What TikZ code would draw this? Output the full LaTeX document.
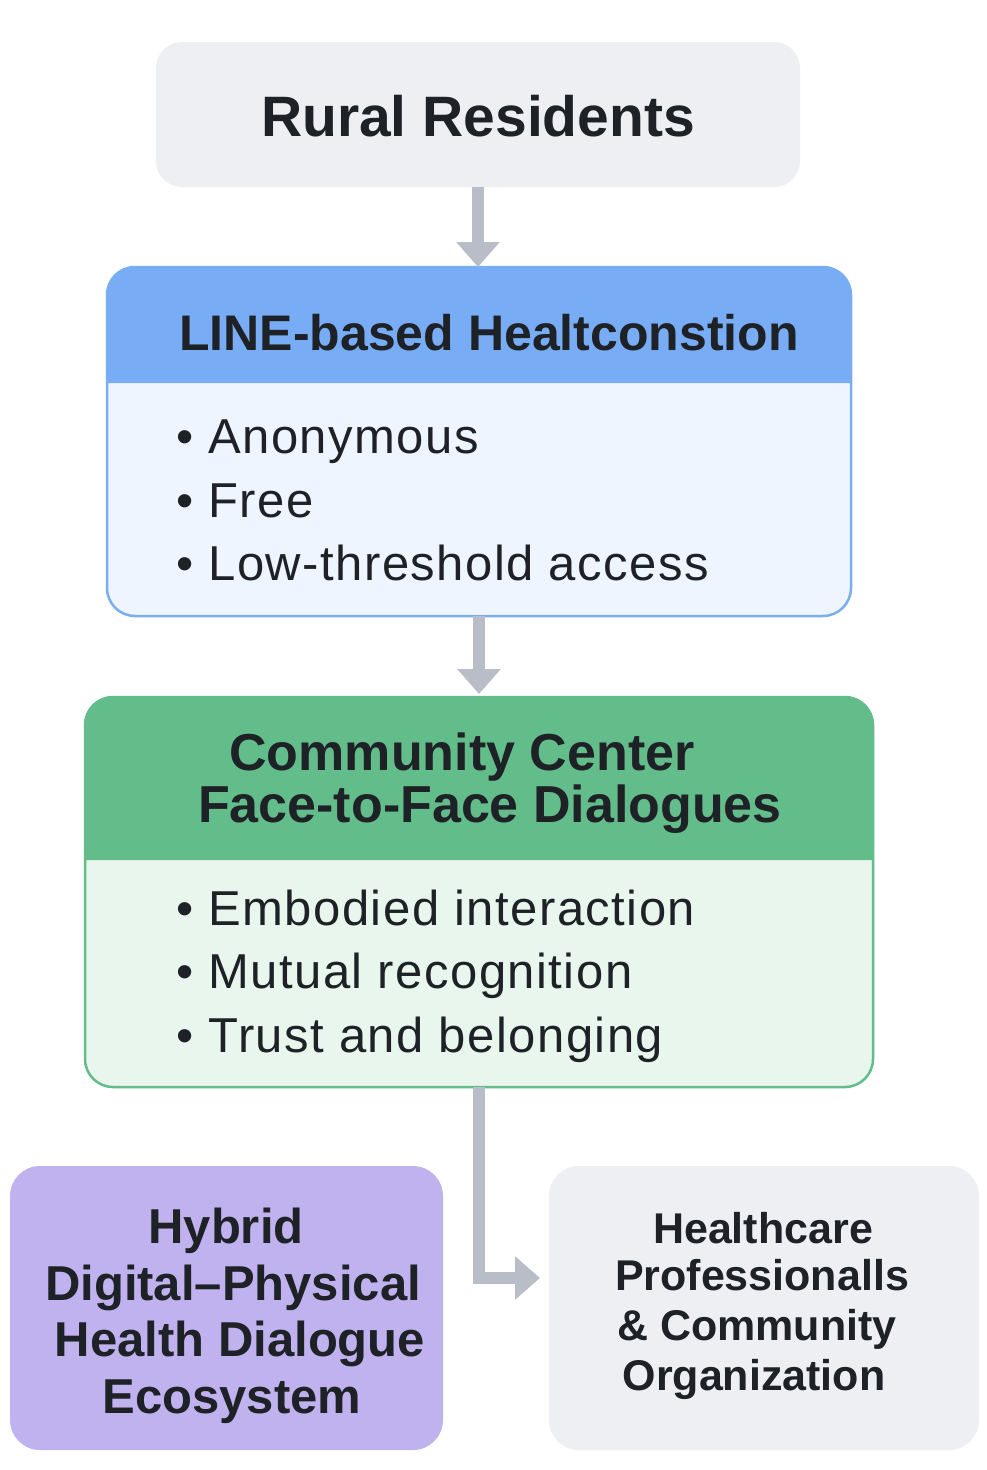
\documentclass[tikz,border=0pt]{standalone}
\usepackage{fontspec}
\setmainfont{Liberation Sans}
\usetikzlibrary{arrows.meta}
\definecolor{txt}{HTML}{1E2227}
\definecolor{arrgray}{HTML}{B8BDC7}
\definecolor{rurfill}{HTML}{EDEFF3}
\definecolor{bluehead}{HTML}{78ADF6}
\definecolor{blueline}{HTML}{7AAEF0}
\definecolor{bluebody}{HTML}{EEF5FF}
\definecolor{greenhead}{HTML}{63BD8A}
\definecolor{greenline}{HTML}{63BD8A}
\definecolor{greenbody}{HTML}{E8F6EE}
\definecolor{purplefill}{HTML}{C0B2EE}
\definecolor{hcfill}{HTML}{EDEFF3}
\begin{document}
\begin{tikzpicture}[x=1pt,y=-1pt,
  box/.style={rectangle, inner sep=0pt, outer sep=0pt},
  lbl/.style={anchor=base, inner sep=0pt, text=txt},
  bul/.style={anchor=base west, inner sep=0pt, text=txt,
    font=\fontsize{49}{49}\selectfont\addfontfeature{LetterSpace=3}},
  arr/.style={draw=arrgray, line width=12pt,
    -{Triangle[width=42pt,length=25pt]}},
  ttl/.style={lbl, font=\bfseries\fontsize{52}{52}\selectfont},
  hyb/.style={lbl, font=\bfseries\fontsize{49}{49}\selectfont},
  hct/.style={lbl, font=\bfseries\fontsize{43}{43}\selectfont}]
\useasboundingbox (0,0) rectangle (986,1470);
\fill[white] (0,0) rectangle (986,1470);

% Rural residents
\node[box, fill=rurfill, rounded corners=26pt, minimum width=644pt, minimum height=145pt] (rural) at (478,114.5) {};
\node[lbl, font=\bfseries\fontsize{57}{57}\selectfont] (ruraltxt) at (478,136.5) {Rural Residents};

% LINE box
\node[box, fill=bluebody, draw=blueline, line width=2.5pt, rounded corners=28pt, minimum width=744pt, minimum height=349pt] (line) at (479,441.5) {};
\fill[bluehead] (107,383) [rounded corners=28pt] -- (107,267) -- (851,267) [sharp corners] -- (851,383) -- cycle;
\node[ttl, font=\bfseries\fontsize{50}{50}\selectfont] (linetitle) at (489,350) {LINE-based Healtconstion};
\node[bul] (l1) at (176,453) {• Anonymous};
\node[bul] (l2) at (176,517) {• Free};
\node[bul] (l3) at (176,580) {• Low-threshold access};

% Community box
\node[box, fill=greenbody, draw=greenline, line width=2.5pt, rounded corners=28pt, minimum width=788pt, minimum height=390pt] (comm) at (479,892) {};
\fill[greenhead] (85,860) [rounded corners=28pt] -- (85,697) -- (873,697) [sharp corners] -- (873,860) -- cycle;
\node[ttl] (ct1) at (462,770) {Community Center};
\node[ttl] (ct2) at (490,822) {Face-to-Face Dialogues};
\node[bul] (c1) at (176,925) {• Embodied interaction};
\node[bul] (c2) at (176,988) {• Mutual recognition};
\node[bul] (c3) at (176,1052) {• Trust and belonging};

% Hybrid box
\node[box, fill=purplefill, rounded corners=30pt, minimum width=433pt, minimum height=284pt] (hyb) at (226.5,1308) {};
\node[hyb] (h1) at (226,1243) {Hybrid};
\node[hyb] (h2) at (233,1300) {Digital–Physical};
\node[hyb] (h3) at (240,1356) {Health Dialogue};
\node[hyb] (h4) at (232,1413) {Ecosystem};

% Healthcare box
\node[box, fill=hcfill, rounded corners=30pt, minimum width=430pt, minimum height=284pt] (hc) at (764,1308) {};
\node[hct] (p1) at (763,1243) {Healthcare};
\node[hct] (p2) at (762,1290) {Professionalls};
\node[hct] (p3) at (757,1340) {\& Community};
\node[hct] (p4) at (754,1390) {Organization};

% Arrows
\draw[arr] (rural.south) -- (rural.south |- line.north);
\draw[arr] (line.south) -- ([yshift=3pt]comm.north);
\draw[arr] (comm.south) |- ([yshift=30pt, xshift=-9pt]hc.west);
\end{tikzpicture}
\end{document}
